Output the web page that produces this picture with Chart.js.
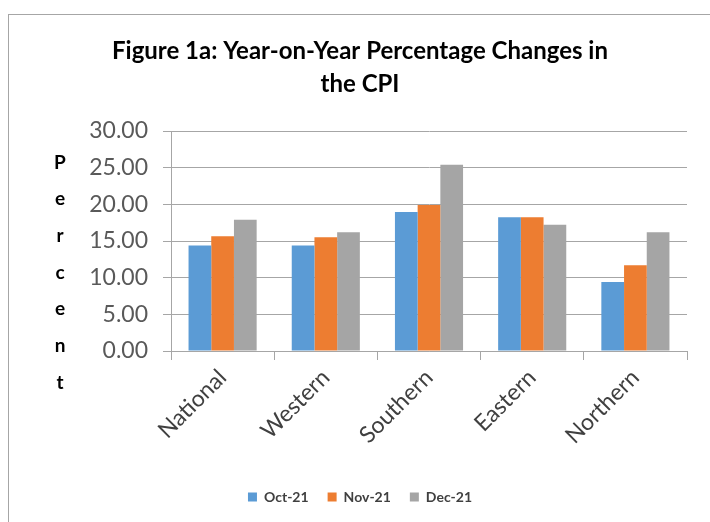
<!DOCTYPE html>
<html><head><meta charset="utf-8">
<script src="https://cdn.jsdelivr.net/npm/chart.js@4"></script>
<style>
html,body{margin:0;padding:0;background:#fff;}
#wrap{position:relative;width:710px;height:522px;overflow:hidden;}
#frame{position:absolute;left:8px;top:14px;width:760px;height:560px;border:1px solid #a6a6a6;box-sizing:border-box;}
canvas{position:absolute;left:0;top:0;}
</style></head>
<body><div id="wrap"><div id="frame"></div><canvas id="c" width="710" height="522"></canvas></div>
<script>
const categories = ["National","Western","Southern","Eastern","Northern"];
const oct21 = [14.4, 14.4, 18.95, 18.25, 9.4];
const nov21 = [15.65, 15.5, 19.9, 18.25, 11.7];
const dec21 = [17.9, 16.2, 25.4, 17.2, 16.2];
const seriesNames = ["Oct-21","Nov-21","Dec-21"];
const yTicks = [0,5,10,15,20,25,30];
const yTitleLetters = ["P","e","r","c","e","n","t"];
const colors = ["#5b9bd5","#ed7d31","#a5a5a5"];
const FONT = "Lato, 'Open Sans', sans-serif";

const stackedTitle = {
  id: 'stackedTitle',
  afterDraw(chart) {
    const ctx = chart.ctx, y = chart.scales.y;
    ctx.save();
    ctx.fillStyle = "#000";
    ctx.font = "bold 19px " + FONT;
    ctx.textAlign = "center";
    ctx.textBaseline = "middle";
    yTitleLetters.forEach((ch, i) => {
      const py = y.getPixelForValue(25) + i * (y.getPixelForValue(0) - y.getPixelForValue(5)) - 5;
      ctx.fillText(ch, 60, py);
    });
    ctx.restore();
  }
};

new Chart(document.getElementById('c'), {
  type: 'bar',
  data: {
    labels: categories,
    datasets: [oct21, nov21, dec21].map((d,i)=>({
      label: seriesNames[i], data: d, backgroundColor: colors[i],
      borderWidth: 0, barPercentage: 1.0, categoryPercentage: 0.66
    }))
  },
  plugins: [stackedTitle],
  options: {
    responsive: false, animation: false,
    layout: {padding: {left: 33, right: 23, top: 26, bottom: 8}},
    plugins: {
      title: {display: true, text: ["Figure 1a: Year-on-Year Percentage Changes in","the CPI"],
        color: "#000", font: {family: FONT, size: 24, weight: 'bold', lineHeight: 1.375}, padding: {top: 9, bottom: 30}},
      legend: {position: 'bottom', labels: {boxWidth: 9, boxHeight: 9, color: "#404040",
        font: {family: FONT, size: 14, weight: 'bold'}, padding: 19}},
      tooltip: {enabled: false}
    },
    scales: {
      x: {
        afterFit: s => { s.height = 120; },
        grid: {display: true, offset: true, drawOnChartArea: false, drawTicks: true, tickLength: 9, color: "#a6a6a6"},
        border: {color: "#a6a6a6"},
        ticks: {color: "#404040", font: {family: FONT, size: 23}, maxRotation: 45, minRotation: 45, padding: 4}
      },
      y: {
        min: 0, max: 30,
        afterFit: s => { s.width = 138; },
        afterBuildTicks: (s) => { s.ticks = yTicks.map(v => ({value: v})); },
        grid: {color: "#a6a6a6", tickLength: 8},
        border: {color: "#a6a6a6"},
        ticks: {color: "#595959", font: {family: FONT, size: 23}, padding: 15, callback: v => Number(v).toFixed(2)}
      }
    }
  }
});
</script></body></html>
